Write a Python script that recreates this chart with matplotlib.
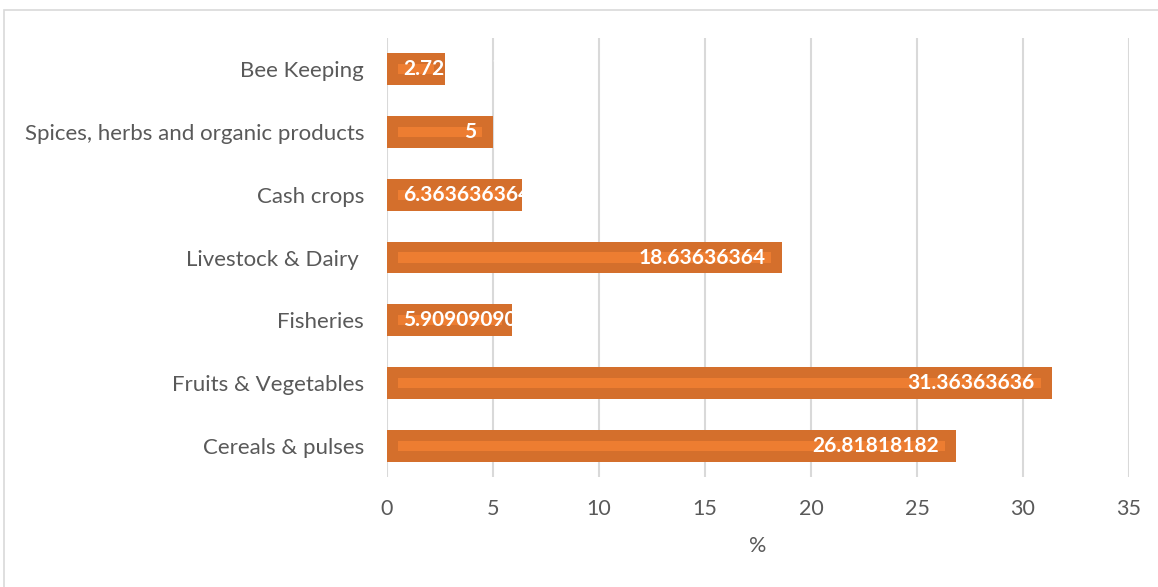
import numpy as np
import matplotlib.pyplot as plt
from matplotlib.patches import Rectangle

categories = ['Bee Keeping', 'Spices, herbs and organic products', 'Cash crops',
              'Livestock & Dairy ', 'Fisheries', 'Fruits & Vegetables', 'Cereals & pulses']
shares = [2.727272727, 5, 6.363636364, 18.63636364, 5.909090909, 31.36363636, 26.81818182]
x_ticks = [0, 5, 10, 15, 20, 25, 30, 35]

plt.rcParams['font.family'] = ['Lato', 'DejaVu Sans']

fig = plt.figure(figsize=(11.58, 5.87), dpi=100)
# light grey chart frame
fig.patches.append(Rectangle((4 / 1158, -0.1), 1.2, 1.1 - 10 / 587 + 0.0,
                             transform=fig.transFigure, fill=False,
                             edgecolor='#D9D9D9', linewidth=1.2))
ax = fig.add_axes([387 / 1158, 1 - 477 / 587, 742 / 1158, 439 / 587])

y = np.arange(len(categories))
vals = np.array(shares)
bars = ax.barh(y, vals, height=0.51, color='#D46F2C', zorder=2)
# thin highlight strip inside each bar
ax.barh(y, vals - 1.0, left=0.5, height=0.16, color='#ED7D31', zorder=3)

ax.set_xlim(0, 35)
ax.set_ylim(len(categories) - 0.5, -0.5)
ax.set_xticks(x_ticks)
ax.set_yticks(y)
ax.set_yticklabels(categories, fontsize=16)
ax.tick_params(axis='both', length=0, labelcolor='#595959')
ax.tick_params(axis='x', pad=16, labelsize=15.5)
ax.tick_params(axis='y', pad=16.5)
for s in ax.spines.values():
    s.set_visible(False)
ax.grid(axis='x', color='#D9D9D9', linewidth=1.5, zorder=0)
ax.set_axisbelow(True)
ax.set_xlabel('%', fontsize=15.5, color='#595959', labelpad=12)

px = 742 / 35  # pixels per data unit
labels = []
for bar, v in zip(bars, vals):
    t = ax.text(v - 17 / px, bar.get_y() + bar.get_height() / 2, f'{v:.10g}',
                ha='right', va='center', color='white', fontsize=15,
                fontweight='bold', zorder=4)
    t.set_clip_path(bar)
    labels.append(t)

fig.canvas.draw()
r = fig.canvas.get_renderer()
x0 = ax.transData.transform((0, 0))[0]
for t in labels:
    bb = t.get_window_extent(r)
    if bb.x0 < x0 + 16:
        t.set_x(16 / px)
        t.set_ha('left')

fig.savefig('out.png', dpi=100)
